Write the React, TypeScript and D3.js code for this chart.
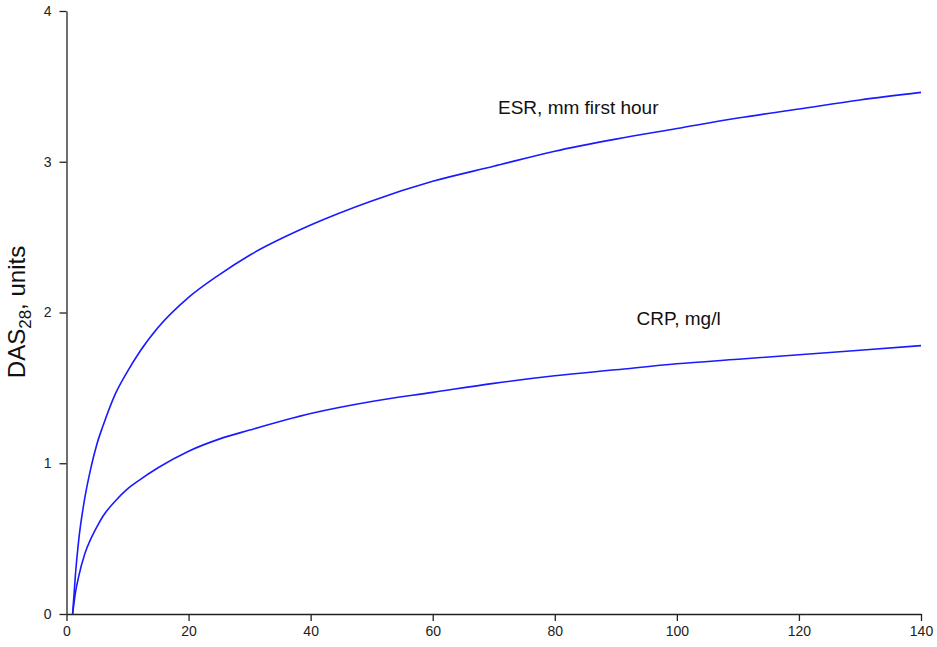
import { useEffect, useRef } from "react"
import * as d3 from "d3"

// values
const xValues = [1, 1.5, 2, 3, 4, 5, 6, 8, 10, 12, 15, 20, 25, 30, 40, 50, 60, 70, 80, 90, 100, 110, 120, 130, 140]
const esrValues = [0, 0.28, 0.49, 0.77, 0.97, 1.13, 1.25, 1.46, 1.61, 1.74, 1.9, 2.1, 2.25, 2.38, 2.58, 2.74, 2.87, 2.97, 3.07, 3.15, 3.22, 3.29, 3.35, 3.41, 3.46]
const crpValues = [0, 0.15, 0.25, 0.4, 0.5, 0.58, 0.65, 0.75, 0.83, 0.89, 0.97, 1.08, 1.16, 1.22, 1.33, 1.41, 1.47, 1.53, 1.58, 1.62, 1.66, 1.69, 1.72, 1.75, 1.78]
const xTicks = [0, 20, 40, 60, 80, 100, 120, 140]
const yTicks = [0, 1, 2, 3, 4]

const seriesLabels = [
  { name: "ESR, mm first hour", x: 70.7, y: 3.32 },
  { name: "CRP, mg/l", x: 93.4, y: 1.915 },
]

export default function App() {
  const svgRef = useRef<SVGSVGElement>(null)

  useEffect(() => {
    if (!svgRef.current) return
    const svg = d3.select(svgRef.current)
    svg.selectAll("*").remove()

    const x = d3.scaleLinear().domain([0, 140]).range([66.5, 921])
    const y = d3.scaleLinear().domain([0, 4]).range([614, 11])
    const font = "Arial, 'Liberation Sans', sans-serif"

    // axes
    const xAxis = svg
      .append("g")
      .attr("transform", `translate(0, ${y(0)})`)
      .call(d3.axisBottom(x).tickValues(xTicks).tickFormat(d3.format("d")).tickSize(7).tickPadding(5).tickSizeOuter(0))
    const yAxis = svg
      .append("g")
      .attr("transform", `translate(${x(0)}, 0)`)
      .call(d3.axisLeft(y).tickValues(yTicks).tickFormat(d3.format("d")).tickSize(7).tickPadding(8).tickSizeOuter(0))

    for (const ax of [xAxis, yAxis]) {
      ax.select(".domain").attr("stroke", "#222").attr("stroke-width", 1.3)
      ax.selectAll(".tick line").attr("stroke", "#222").attr("stroke-width", 1.3)
      ax.selectAll(".tick text").attr("fill", "#222").style("font-family", font).style("font-size", "14px")
    }

    // y title with subscript
    const title = svg
      .append("text")
      .attr("transform", `translate(25, 312) rotate(-90)`)
      .attr("text-anchor", "middle")
      .attr("fill", "#111")
      .style("font-family", font)
      .style("font-size", "24px")
    title.append("tspan").text("DAS")
    title.append("tspan").attr("dy", 6).style("font-size", "17px").text("28")
    title.append("tspan").attr("dy", -6).text(", units")

    const line = d3
      .line<number>()
      .x((_, i) => x(xValues[i]))
      .y((d) => y(d))
      .curve(d3.curveMonotoneX)

    for (const vals of [esrValues, crpValues]) {
      svg
        .append("path")
        .attr("d", line(vals))
        .attr("fill", "none")
        .attr("stroke", "#1a1aff")
        .attr("stroke-width", 1.6)
    }

    svg
      .selectAll(".series-label")
      .data(seriesLabels)
      .join("text")
      .attr("class", "series-label")
      .attr("x", (d) => x(d.x))
      .attr("y", (d) => y(d.y))
      .attr("fill", "#111")
      .style("font-family", font)
      .style("font-size", "19px")
      .text((d) => d.name)
  }, [])

  return (
    <svg
      ref={svgRef}
      width={937}
      height={647}
      style={{ position: "absolute", left: 0, top: 0, background: "#fff" }}
    ></svg>
  )
}
